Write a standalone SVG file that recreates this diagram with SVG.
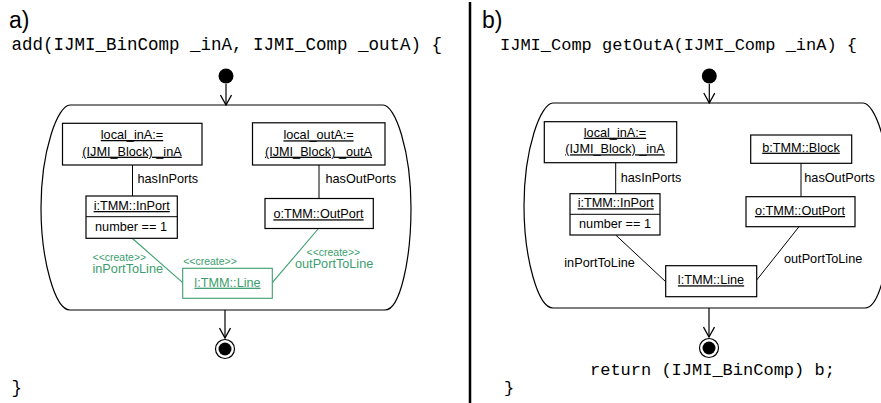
<svg xmlns="http://www.w3.org/2000/svg" width="881" height="403" viewBox="0 0 881 403">
  <defs>
    <style>
      .lbl { font-family: "Liberation Sans", Arial, sans-serif; font-size: 12.7px; fill: #000; }
      .obj { font-family: "Liberation Sans", Arial, sans-serif; font-size: 12.7px; fill: #000; text-anchor: middle; text-decoration: underline; }
      .code { font-family: "Liberation Mono", "Courier New", monospace; font-size: 17.5px; fill: #000; }
      .code-b { font-family: "Liberation Mono", "Courier New", monospace; font-size: 17px; fill: #000; }
      .tag { font-family: "Liberation Sans", Arial, sans-serif; font-size: 23px; fill: #000; }
      .box { fill: #fff; stroke: #000; stroke-width: 1.2; }
      .frame { fill: none; stroke: #000; stroke-width: 1.2; }
      .link { fill: none; stroke: #000; stroke-width: 1; }
      .new { fill: none; stroke: #3c9e6e; stroke-width: 1.1; }
      .newtxt { font-family: "Liberation Sans", Arial, sans-serif; fill: #3c9e6e; }
      .flow { fill: none; stroke: #000; stroke-width: 1.2; }
    </style>
    <marker id="open" viewBox="0 0 12 12" refX="11" refY="6" markerWidth="12" markerHeight="12" markerUnits="userSpaceOnUse" orient="auto">
      <path d="M1,0.5 L11,6 L1,11.5" fill="none" stroke="#000" stroke-width="1.3"/>
    </marker>
  </defs>

  <!-- divider between the two halves -->
  <line x1="470" y1="2" x2="470" y2="403" stroke="#000" stroke-width="2.5"/>

  <!-- ===== a) add(...) ===== -->
  <g id="panel-a">
    <text class="tag" x="9" y="28">a)</text>
    <text class="code" x="11.5" y="50">add(IJMI_BinComp _inA, IJMI_Comp _outA) {</text>
    <text class="code" x="11.5" y="393">}</text>

    <g id="a-start"><circle cx="226" cy="76" r="7.5" fill="#000"/></g>
    <g id="a-final">
      <circle cx="225" cy="349" r="9.5" fill="#fff" stroke="#000" stroke-width="1.2"/>
      <circle cx="225" cy="349" r="6.5" fill="#000"/>
    </g>

    <g id="a-activity">
      <path class="frame" d="M70,105 H383 C395,105 411,150 411,208 C411,260 400,310 385,310 H70 C55,310 41,260 41,208 C41,150 58,105 70,105 Z"/>
    </g>

    <g id="a-connectors">
      <line class="flow" x1="226" y1="84" x2="226" y2="105" marker-end="url(#open)"/>
      <line class="flow" x1="225" y1="310" x2="225" y2="338" marker-end="url(#open)"/>
      <line class="link" x1="132.5" y1="165" x2="132.5" y2="196"/>
      <line class="link" x1="319" y1="165" x2="319" y2="198.5"/>
      <line class="new" x1="132.5" y1="238.5" x2="182.7" y2="282.7"/>
      <line class="new" x1="318.5" y1="228.5" x2="272.3" y2="282.7"/>
      <text class="lbl" x="137.5" y="183">hasInPorts</text>
      <text class="lbl" x="325.5" y="183">hasOutPorts</text>
      <text class="newtxt" x="92.5" y="260.5" font-size="10.5">&lt;&lt;create&gt;&gt;</text>
      <text class="newtxt" x="92.5" y="273.3" font-size="12.7">inPortToLine</text>
      <text class="newtxt" x="306.5" y="256" font-size="10.5">&lt;&lt;create&gt;&gt;</text>
      <text class="newtxt" x="295" y="267.7" font-size="12.7">outPortToLine</text>
    </g>

    <g id="a-local-inA">
      <rect class="box" x="62.5" y="123.3" width="139.5" height="41.7"/>
      <text class="obj" x="132" y="139">local_inA:=</text>
      <text class="obj" x="132" y="155.7">(IJMI_Block) _inA</text>
    </g>
    <g id="a-local-outA">
      <rect class="box" x="252.5" y="122.8" width="132.5" height="42.2"/>
      <text class="obj" x="318.5" y="139.3">local_outA:=</text>
      <text class="obj" x="318.5" y="155.7">(IJMI_Block) _outA</text>
    </g>
    <g id="a-inport">
      <rect class="box" x="86" y="196" width="91.3" height="42.3" stroke-width="1.4"/>
      <line class="link" x1="86" y1="216.7" x2="177.3" y2="216.7" stroke-width="1.3"/>
      <text class="obj" x="131.7" y="210">i:TMM::InPort</text>
      <text class="lbl" x="131" y="230.7" text-anchor="middle">number == 1</text>
    </g>
    <g id="a-outport">
      <rect class="box" x="265" y="198.5" width="108.3" height="30" stroke-width="1.4"/>
      <text class="obj" x="318.5" y="218.3">o:TMM::OutPort</text>
    </g>
    <g id="a-line">
      <rect x="182.7" y="268.3" width="89.6" height="30" fill="#fff" stroke="#3c9e6e" stroke-width="1.1"/>
      <text class="newtxt" x="210" y="265" font-size="10.5" text-anchor="middle">&lt;&lt;create&gt;&gt;</text>
      <text class="newtxt" x="227.5" y="286.7" font-size="12.7" text-anchor="middle" text-decoration="underline">l:TMM::Line</text>
    </g>
  </g>

  <!-- ===== b) getOutA(...) ===== -->
  <g id="panel-b">
    <text class="tag" x="482" y="28">b)</text>
    <text class="code-b" x="500" y="50">IJMI_Comp getOutA(IJMI_Comp _inA) {</text>
    <text class="code-b" x="590" y="375">return (IJMI_BinComp) b;</text>
    <text class="code-b" x="504" y="393">}</text>

    <g id="b-start"><circle cx="709.3" cy="76" r="7.5" fill="#000"/></g>
    <g id="b-final">
      <circle cx="709" cy="348" r="9.5" fill="#fff" stroke="#000" stroke-width="1.2"/>
      <circle cx="709" cy="348" r="6.5" fill="#000"/>
    </g>

    <g id="b-activity">
      <path class="frame" d="M553,103 H863 C875,103 891,148 891,206 C891,258 880,308 865,308 H553 C538,308 524,258 524,206 C524,148 541,103 553,103 Z"/>
    </g>

    <g id="b-connectors">
      <line class="flow" x1="709.3" y1="84" x2="709.3" y2="103" marker-end="url(#open)"/>
      <line class="flow" x1="709" y1="308" x2="709" y2="337" marker-end="url(#open)"/>
      <line class="link" x1="615.7" y1="162.7" x2="615.7" y2="193.7"/>
      <line class="link" x1="801" y1="163.3" x2="801" y2="196.7"/>
      <line class="link" x1="615.7" y1="235" x2="665.7" y2="281.7"/>
      <line class="link" x1="799" y1="226.7" x2="756.7" y2="280"/>
      <text class="lbl" x="620.7" y="181.7">hasInPorts</text>
      <text class="lbl" x="804.3" y="181.7">hasOutPorts</text>
      <text class="lbl" x="564.3" y="266.7">inPortToLine</text>
      <text class="lbl" x="784" y="262.7">outPortToLine</text>
    </g>

    <g id="b-local-inA">
      <rect class="box" x="544.3" y="121.7" width="132.4" height="41"/>
      <text class="obj" x="615" y="136.7">local_inA:=</text>
      <text class="obj" x="615" y="153.3">(IJMI_Block) _inA</text>
    </g>
    <g id="b-block">
      <rect class="box" x="750.7" y="135" width="101" height="28.3"/>
      <text class="obj" x="801" y="151.7">b:TMM::Block</text>
    </g>
    <g id="b-inport">
      <rect class="box" x="570" y="193.7" width="90" height="41.3" stroke-width="1.4"/>
      <line class="link" x1="570" y1="214.3" x2="660" y2="214.3" stroke-width="1.3"/>
      <text class="obj" x="615.7" y="207.3">i:TMM::InPort</text>
      <text class="lbl" x="615" y="228.3" text-anchor="middle">number == 1</text>
    </g>
    <g id="b-outport">
      <rect class="box" x="746" y="196.7" width="109" height="30" stroke-width="1.4"/>
      <text class="obj" x="800" y="215">o:TMM::OutPort</text>
    </g>
    <g id="b-line">
      <rect class="box" x="665.7" y="265.7" width="91" height="31"/>
      <text class="obj" x="711" y="284.3">l:TMM::Line</text>
    </g>
  </g>
</svg>
